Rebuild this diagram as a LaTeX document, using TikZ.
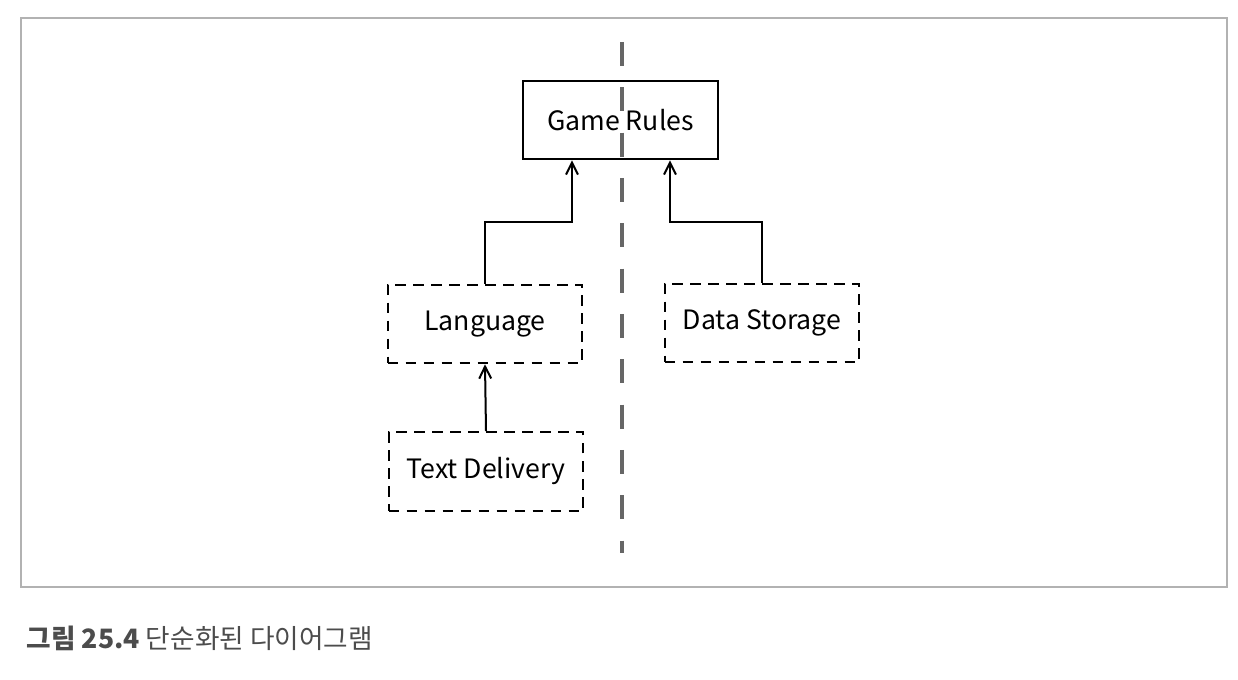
\documentclass[tikz,border=0pt]{standalone}
\usepackage{fontspec}
\setmainfont{Noto Sans CJK KR}
\newfontfamily\capbold{Noto Sans CJK KR Medium}
\usetikzlibrary{arrows.meta}
\tikzset{
  box/.style={draw=black, line width=1.5pt, minimum width=146pt, minimum height=59pt, inner sep=0pt, font=\fontsize{20}{22}\selectfont},
  dbox/.style={box, dash pattern=on 8pt off 5.5pt},
  conn/.style={line width=1.5pt, -{Straight Barb[length=9pt,width=9pt,line width=1.5pt]}},
  axis/.style={draw=black!60, line width=3pt, dash pattern=on 18pt off 16pt}
}
\begin{document}
\begin{tikzpicture}[x=0.75pt,y=-0.75pt]
\useasboundingbox (0,0) rectangle (1238,680);
\draw[black!30, line width=0.8pt] (21,18) rectangle (1227,587);
\coordinate (vtop) at (622,42);
\coordinate (vbot) at (622,553);
\draw[axis] (vtop) -- (vbot);
\node[box] (rules) at (620.5,120) {Game Rules};
\node[dbox] (lang) at (485,324) {Language};
\node[dbox] (text) at (486,471.5) {Text Delivery};
\node[dbox] (data) at (762,323) {Data Storage};
\draw[conn] (lang.north) |- (572,222) -- (rules.south -| 572,0);
\draw[conn] (data.north) |- (670,222) -- (rules.south -| 670,0);
\draw[conn] (text.north) -- (lang.south);
\node[anchor=west, text=black!70, font=\fontsize{20}{22}\selectfont] (cap) at (22,638) {{\bfseries 그림 25.4} 단순화된 다이어그램};
\end{tikzpicture}
\end{document}
